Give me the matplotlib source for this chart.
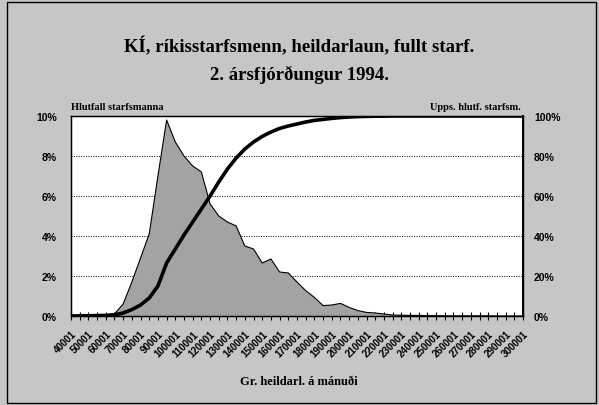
import matplotlib
matplotlib.use('Agg')
import matplotlib.pyplot as plt
from matplotlib.patches import Rectangle
import numpy as np

# Hlutfall starfsmanna (%) for hvert launabil, 40001 - 300001 i 5000 kr. bilum
hlutfall = [0.02, 0.02, 0.03, 0.03, 0.05,
            0.1, 0.6, 1.7, 2.9, 4.1, 7.0, 9.8, 8.7, 8.0, 7.5,
            7.2, 5.6, 5.0, 4.7, 4.5, 3.5, 3.35, 2.65, 2.85, 2.2,
            2.15, 1.7, 1.27, 0.93, 0.52, 0.55, 0.63, 0.43, 0.27, 0.18,
            0.15, 0.1, 0.05,
            0.04, 0.03, 0.03, 0.02, 0.02, 0.01, 0.01, 0.01, 0.01, 0.01,
            0.01, 0.0, 0.0, 0.0, 0.0]

# Uppsafnad hlutfall (%)
uppsafnad = [0.0, 0.1, 0.1, 0.2, 0.3,
             0.6, 1.5, 3.2, 5.5, 9.0, 15.0, 26.5, 33.5, 40.5, 47.0,
             53.5, 60.0, 67.0, 73.5, 79.0, 83.5, 87.0, 89.8, 92.0, 93.8,
             95.0, 96.0, 97.0, 97.8, 98.3, 98.8, 99.2, 99.5, 99.7, 99.8,
             99.9, 99.9, 100, 100, 100, 100, 100, 100, 100, 100,
             100, 100, 100, 100, 100, 100, 100, 100]

x_labels = ['40001', '50001', '60001', '70001', '80001', '90001', '100001',
            '110001', '120001', '130001', '140001', '150001', '160001',
            '170001', '180001', '190001', '200001', '210001', '220001',
            '230001', '240001', '250001', '260001', '270001', '280001',
            '290001', '300001']

left_ticks = ['0%', '2%', '4%', '6%', '8%', '10%']
right_ticks = ['0%', '20%', '40%', '60%', '80%', '100%']

serif = 'Liberation Serif'
sans = 'Liberation Sans'

fig = plt.figure(figsize=(5.99, 4.06), dpi=100)
fig.patch.set_facecolor('#c6c6c6')

# frame round the whole chart
fig.patches.append(Rectangle((7/599, 2/406), 589/599, 401/406, transform=fig.transFigure,
                             fill=False, edgecolor='black', linewidth=1.0))

ax = fig.add_axes([71/599, 89/406, 452/599, 200/406])
ax.set_facecolor('white')
x = np.arange(len(hlutfall))

ax.fill_between(x, hlutfall, 0, facecolor='#a3a3a3', edgecolor='none', zorder=2)
ax.plot(x, hlutfall, color='black', linewidth=0.8, zorder=3)

ax.set_xlim(0, len(hlutfall) - 1)
ax.set_ylim(0, 10)
ax.set_yticks([0, 2, 4, 6, 8, 10])
ax.set_yticklabels(left_ticks, fontfamily=sans, fontweight='bold', fontsize=7.5)
ax.tick_params(axis='y', length=0, pad=10)
for g in [2, 4, 6, 8]:
    ax.axhline(g, color='black', linestyle=(0, (1, 1.5)), linewidth=0.7, zorder=1)

# labels on every second category, ticks on all of them
ax.set_xticks(x[::2])
ax.set_xticklabels(x_labels, rotation=45, ha='right', va='top', rotation_mode='anchor',
                   fontfamily=sans, fontweight='bold', fontsize=7)
ax.set_xticks(x[1::2], minor=True)
ax.tick_params(axis='x', which='both', direction='inout', length=6, width=0.8, pad=6)

for s in ax.spines.values():
    s.set_color('black')
    s.set_linewidth(1.0)

ax2 = ax.twinx()
ax2.plot(x, uppsafnad, color='black', linewidth=2.6, zorder=4, solid_capstyle='round')
ax2.set_ylim(0, 100)
ax2.set_yticks([0, 20, 40, 60, 80, 100])
ax2.set_yticklabels(right_ticks, fontfamily=sans, fontweight='bold', fontsize=7.5)
ax2.tick_params(axis='y', length=0, pad=8)
ax2.spines['right'].set_linewidth(1.4)

fig.text(299/599, 1 - 47/406, 'KÍ, ríkisstarfsmenn, heildarlaun, fullt starf.',
         ha='center', va='center', fontfamily=serif, fontweight='bold', fontsize=13.5)
fig.text(299/599, 1 - 75/406, '2. ársfjórðungur 1994.',
         ha='center', va='center', fontfamily=serif, fontweight='bold', fontsize=13.5)

fig.text(71/599, 1 - 107/406, 'Hlutfall starfsmanna', ha='left', va='center',
         fontfamily=serif, fontweight='bold', fontsize=7.5)
fig.text(521/599, 1 - 107/406, 'Upps. hlutf. starfsm.', ha='right', va='center',
         fontfamily=serif, fontweight='bold', fontsize=7.5)
fig.text(299/599, 1 - 382/406, 'Gr. heildarl. á mánuði', ha='center', va='center',
         fontfamily=serif, fontweight='bold', fontsize=9)

fig.savefig('out.png', dpi=100, facecolor=fig.get_facecolor())
